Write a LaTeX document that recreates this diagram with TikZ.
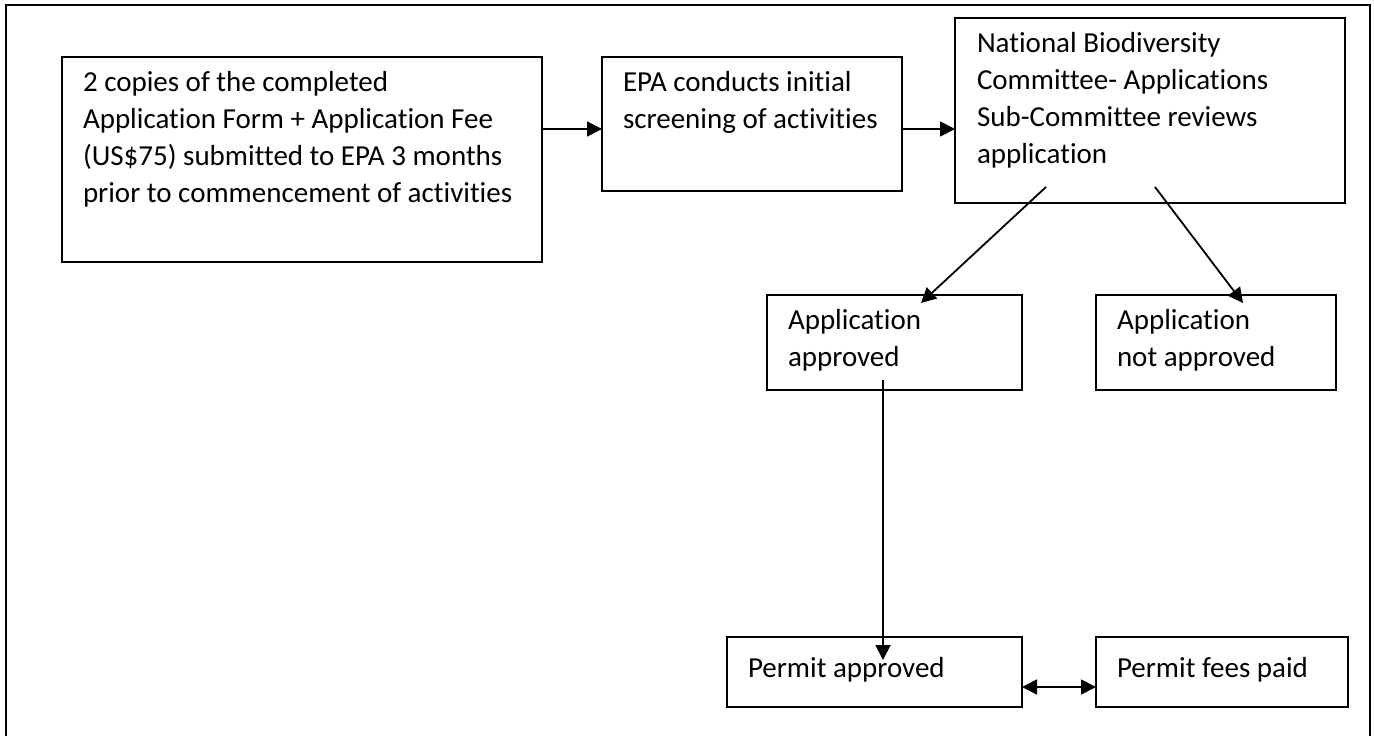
\documentclass[tikz,border=0pt]{standalone}
\usepackage{fontspec}
\setmainfont{Carlito}[Ligatures={NoCommon}]
\usetikzlibrary{arrows.meta,calc}
\begin{document}
\begin{tikzpicture}[x=1pt,y=-1pt,
  box/.style={draw, line width=1.8pt, inner sep=0pt, outer sep=0pt, anchor=north west},
  txt/.style={anchor=north west, inner sep=0pt, outer sep=0pt, align=left,
              font=\fontsize{29}{37}\selectfont, execute at begin node={\rule{0pt}{26pt}}},
  conn/.style={line width=1.8pt, -{Triangle[length=15pt,width=15pt]}},
  dconn/.style={line width=1.8pt, {Triangle[length=15pt,width=15pt]}-{Triangle[length=15pt,width=15pt]}},
  frame/.style={line width=1.8pt}
  ]
\useasboundingbox (0,0) rectangle (1374,736);
\draw[frame] (6,740) -- (6,5) -- (1370,5) -- (1370,740);

% boxes
\node[box, minimum width=480pt, minimum height=205pt] (a) at (62,57) {};
\node[box, minimum width=300pt, minimum height=134pt] (b) at (602,57) {};
\node[box, minimum width=390pt, minimum height=185pt] (c) at (955,18) {};
\node[box, minimum width=255pt, minimum height=95pt] (d) at (767,295) {};
\node[box, minimum width=240pt, minimum height=95pt] (e) at (1096,295) {};
\node[box, minimum width=295pt, minimum height=70pt] (f) at (727,637) {};
\node[box, minimum width=252pt, minimum height=70pt] (g) at (1096,637) {};

% texts
\node[txt] (ta) at ($(a.north west)+(21,14)$) {2 copies of the completed\\Application Form + Application Fee\\(US\$75) submitted to EPA 3 months\\prior to commencement of activities};
\node[txt] (tb) at ($(b.north west)+(21,14)$) {EPA conducts initial\\screening of activities};
\node[txt] (tc) at ($(c.north west)+(22,14)$) {National Biodiversity\\Committee- Applications\\Sub-Committee reviews\\application};
\node[txt] (td) at ($(d.north west)+(21,14)$) {Application\\approved};
\node[txt] (te) at ($(e.north west)+(21,14)$) {Application\\not approved};
\node[txt] (tf) at ($(f.north west)+(21,14)$) {Permit approved};
\node[txt] (tg) at ($(g.north west)+(21,14)$) {Permit fees paid};

% connectors
\draw[conn] ($(a.north east)+(0,72)$) -- ($(b.north west)+(0,72)$);
\draw[conn] ($(b.north east)+(0,72)$) -- ($(c.north west)+(0,111)$);
\draw[conn] ($(c.north west)+(91,169)$) -- ($(d.north west)+(154,8)$);
\draw[conn] ($(c.north west)+(200,169)$) -- ($(e.north west)+(147,8)$);
\draw[conn] ($(d.north west)+(116,85)$) -- ($(f.north west)+(156,23)$);
\draw[dconn] ($(f.north east)+(0,50)$) -- ($(g.north west)+(0,50)$);
\end{tikzpicture}
\end{document}
